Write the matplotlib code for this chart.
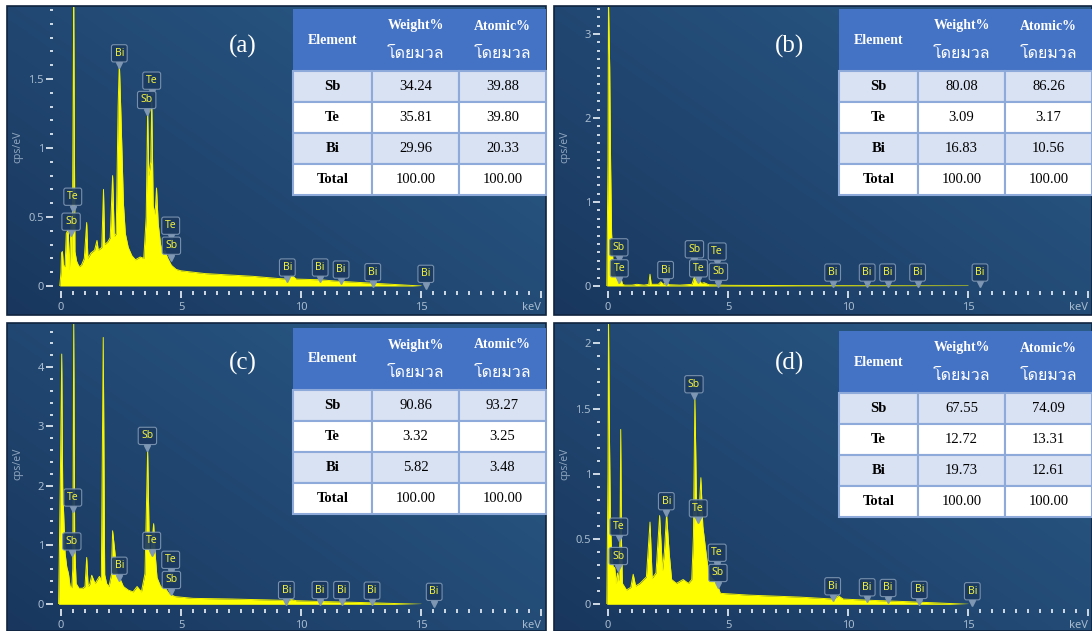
import numpy as np
import matplotlib
matplotlib.use('Agg')
import matplotlib.pyplot as plt
from matplotlib import font_manager
from matplotlib.patches import Rectangle
from matplotlib.ticker import MultipleLocator, FixedLocator, FuncFormatter
from matplotlib.transforms import offset_copy

# --- EDS spectra (keV, cps/eV) ---
energy_a = [-0.05, 0.0, 0.02, 0.06, 0.1, 0.17, 0.22, 0.3, 0.35, 0.42, 0.47, 0.53, 0.58, 0.65, 0.75,
            0.85, 0.97, 1.07, 1.12, 1.25, 1.4, 1.5, 1.55, 1.7, 1.77, 1.82, 1.95, 2.05, 2.15, 2.22,
            2.3, 2.38, 2.43, 2.5, 2.6, 2.68, 2.8, 2.95, 3.1, 3.3, 3.45, 3.55, 3.61, 3.66, 3.74,
            3.78, 3.84, 3.92, 3.98, 4.05, 4.15, 4.25, 4.32, 4.45, 4.6, 4.8, 5.0, 6.0, 7.0, 8.0,
            9.0, 9.4, 9.6, 9.8, 10.8, 11.5, 12.5, 13.5, 14.5, 15.0]
cps_a = [0, 0.1, 0.24, 0.25, 0.15, 0.14, 0.38, 0.41, 0.12, 0.45, 0.2, 2.1, 0.25, 0.18, 0.14,
         0.15, 0.2, 0.46, 0.2, 0.24, 0.26, 0.33, 0.26, 0.28, 0.7, 0.3, 0.32, 0.35, 0.8, 0.36,
         0.38, 1.3, 1.62, 1.22, 0.6, 0.38, 0.28, 0.22, 0.19, 0.21, 0.2, 0.5, 1.27, 0.8, 0.9,
         1.35, 0.58, 0.52, 0.71, 0.45, 0.3, 0.24, 0.26, 0.2, 0.15, 0.12, 0.11, 0.09, 0.08, 0.07,
         0.055, 0.05, 0.08, 0.05, 0.045, 0.035, 0.025, 0.015, 0.005, 0.0]

energy_b = [-0.05, 0.0, 0.02, 0.07, 0.11, 0.15, 0.21, 0.28, 0.35, 0.42, 0.48, 0.53, 0.6, 0.7, 1.0,
            1.2, 1.5, 1.7, 1.75, 1.8, 2.1, 2.2, 2.3, 2.45, 2.55, 3.0, 3.5, 3.6, 3.68, 3.78,
            3.9, 4.0, 4.2, 5.0, 8.0, 12.0, 15.0]
cps_b = [0, 1.5, 3.4, 2.6, 1.41, 0.62, 0.27, 0.15, 0.09, 0.03, 0.05, 0.11, 0.02, 0.01, 0.01,
         0.02, 0.01, 0.02, 0.14, 0.02, 0.02, 0.05, 0.02, 0.04, 0.015, 0.01, 0.02, 0.11, 0.05, 0.07,
         0.03, 0.04, 0.015, 0.008, 0.004, 0.002, 0.0]

energy_c = [-0.1, -0.03, 0.03, 0.07, 0.17, 0.24, 0.31, 0.38, 0.45, 0.49, 0.53, 0.57, 0.63, 0.75, 0.9,
            1.0, 1.07, 1.13, 1.2, 1.28, 1.42, 1.6, 1.68, 1.76, 1.82, 1.9, 2.0, 2.1, 2.15, 2.25,
            2.33, 2.45, 2.6, 2.8, 3.0, 3.17, 3.35, 3.5, 3.61, 3.68, 3.75, 3.86, 3.92, 4.0, 4.15,
            4.35, 4.5, 4.75, 5.5, 7.0, 8.5, 9.4, 9.6, 9.8, 11.0, 12.5, 14.0, 15.0]
cps_c = [0, 2.0, 4.22, 1.98, 0.86, 0.63, 0.52, 0.3, 0.28, 0.6, 4.8, 1.0, 0.35, 0.27, 0.27,
         0.3, 0.79, 0.3, 0.34, 0.49, 0.35, 0.47, 0.4, 4.5, 0.5, 0.35, 0.3, 0.5, 1.24, 0.86,
         0.52, 0.44, 0.3, 0.24, 0.21, 0.3, 0.21, 0.52, 2.6, 0.95, 0.86, 1.36, 0.86, 0.45, 0.3,
         0.27, 0.18, 0.13, 0.1, 0.09, 0.075, 0.065, 0.08, 0.06, 0.045, 0.03, 0.012, 0.0]

energy_d = [-0.05, 0.0, 0.02, 0.06, 0.1, 0.15, 0.21, 0.28, 0.35, 0.39, 0.45, 0.5, 0.53, 0.56, 0.6,
            0.77, 0.95, 1.05, 1.15, 1.33, 1.6, 1.75, 1.84, 2.0, 2.15, 2.27, 2.35, 2.44, 2.55, 2.65,
            2.85, 3.13, 3.35, 3.49, 3.56, 3.62, 3.7, 3.78, 3.87, 3.95, 4.06, 4.19, 4.33, 4.54, 4.68,
            5.9, 8.0, 9.4, 9.6, 9.8, 11.0, 12.5, 14.0, 15.0]
cps_d = [0, 1.0, 2.2, 1.29, 0.65, 0.39, 0.29, 0.28, 0.16, 0.24, 0.18, 0.5, 1.34, 0.5, 0.16,
         0.11, 0.13, 0.23, 0.14, 0.16, 0.21, 0.63, 0.2, 0.24, 0.68, 0.26, 0.4, 0.69, 0.39, 0.19,
         0.16, 0.19, 0.16, 0.19, 0.52, 1.58, 0.65, 0.65, 0.97, 0.6, 0.43, 0.24, 0.2, 0.16, 0.084,
         0.07, 0.055, 0.04, 0.065, 0.04, 0.03, 0.02, 0.008, 0.0]

# peak callouts: (element, keV, label height in cps/eV)
labels_a = [('Te', 0.49, 0.647), ('Sb', 0.42, 0.466), ('Bi', 2.43, 1.686), ('Te', 3.78, 1.488),
            ('Sb', 3.57, 1.348), ('Te', 4.57, 0.437), ('Sb', 4.6, 0.292), ('Bi', 9.43, 0.134),
            ('Bi', 10.8, 0.134), ('Bi', 11.67, 0.119), ('Bi', 12.99, 0.10), ('Bi', 15.2, 0.088)]
labels_b = [('Sb', 0.45, 0.46), ('Te', 0.47, 0.21), ('Bi', 2.4, 0.19), ('Sb', 3.6, 0.437),
            ('Te', 3.77, 0.21), ('Te', 4.55, 0.41), ('Sb', 4.6, 0.17), ('Bi', 9.36, 0.16),
            ('Bi', 10.8, 0.16), ('Bi', 11.65, 0.16), ('Bi', 12.9, 0.16), ('Bi', 15.5, 0.16)]
labels_c = [('Te', 0.49, 1.80), ('Sb', 0.45, 1.06), ('Bi', 2.43, 0.65), ('Sb', 3.6, 2.84),
            ('Te', 3.78, 1.07), ('Te', 4.57, 0.75), ('Sb', 4.6, 0.41), ('Bi', 9.39, 0.24),
            ('Bi', 10.79, 0.24), ('Bi', 11.69, 0.24), ('Bi', 12.96, 0.23), ('Bi', 15.55, 0.21)]
labels_d = [('Te', 0.45, 0.595), ('Sb', 0.43, 0.37), ('Bi', 2.43, 0.79), ('Sb', 3.58, 1.686),
            ('Te', 3.76, 0.735), ('Te', 4.55, 0.395), ('Sb', 4.58, 0.24), ('Bi', 9.36, 0.138),
            ('Bi', 10.8, 0.13), ('Bi', 11.67, 0.125), ('Bi', 12.97, 0.11), ('Bi', 15.18, 0.10)]

# labelled y ticks per panel
yticks_a = [0, 0.5, 1, 1.5]
yticks_b = [0, 1, 2, 3]
yticks_c = [0, 1, 2, 3, 4]
yticks_d = [0, 0.5, 1, 1.5, 2]
xticks = [0, 5, 10, 15, 20]
xticklabels = ['0', '5', '10', '15', 'keV']

# composition tables
elements = ['Sb', 'Te', 'Bi', 'Total']
weight_a = [34.24, 35.81, 29.96, 100.00]
atomic_a = [39.88, 39.80, 20.33, 100.00]
weight_b = [80.08, 3.09, 16.83, 100.00]
atomic_b = [86.26, 3.17, 10.56, 100.00]
weight_c = [90.86, 3.32, 5.82, 100.00]
atomic_c = [93.27, 3.25, 3.48, 100.00]
weight_d = [67.55, 12.72, 19.73, 100.00]
atomic_d = [74.09, 13.31, 12.61, 100.00]


def find_thai_font():
    try:
        from fontTools.ttLib import TTFont
    except ImportError:
        return None
    for f in font_manager.fontManager.ttflist:
        try:
            tt = TTFont(f.fname, fontNumber=0, lazy=True)
            cmap = tt.getBestCmap()
            if cmap and 0x0E14 in cmap and 0x0E27 in cmap:
                return f.name
        except Exception:
            continue
    return None


thai_font = find_thai_font()
thai_family = [thai_font, 'DejaVu Sans'] if thai_font else ['DejaVu Sans']

W, H = 1092, 631
fig = plt.figure(figsize=(W / 100, H / 100), dpi=100)
fig.patch.set_facecolor('white')


def px_axes(x0, y0, x1, y1, **kw):
    return fig.add_axes([x0 / W, 1 - y1 / H, (x1 - x0) / W, (y1 - y0) / H], **kw)


# background layer with the blue gradient panels
bg = px_axes(0, 0, W, H, zorder=0)
bg.set_axis_off()
top_col = np.array([0x2b, 0x5c, 0x8a]) / 255
bot_col = np.array([0x19, 0x37, 0x5e]) / 255
gx, gy = np.meshgrid(np.linspace(0, 1, 64), np.linspace(0, 1, 64))
t = np.clip(0.55 * gx + 0.45 * (1 - gy), 0, 1)
grad = bot_col[None, None, :] * (1 - t[..., None]) + top_col[None, None, :] * t[..., None]

panels = [
    dict(tag='(a)', box=(7, 6, 546, 315), x0=61, y0=286, ppu=138, yt=yticks_a, ymin=0.1,
         E=energy_a, C=cps_a, labels=labels_a, tab=(293, 9), w=weight_a, at=atomic_a),
    dict(tag='(b)', box=(554, 6, 1092, 315), x0=608, y0=286, ppu=84, yt=yticks_b, ymin=0.1,
         E=energy_b, C=cps_b, labels=labels_b, tab=(839, 9), w=weight_b, at=atomic_b),
    dict(tag='(c)', box=(7, 323, 546, 631), x0=61, y0=604.3, ppu=59.3, yt=yticks_c, ymin=0.2,
         E=energy_c, C=cps_c, labels=labels_c, tab=(293, 328), w=weight_c, at=atomic_c),
    dict(tag='(d)', box=(554, 323, 1092, 631), x0=608, y0=604.3, ppu=130.5, yt=yticks_d, ymin=0.1,
         E=energy_d, C=cps_d, labels=labels_d, tab=(839, 331), w=weight_d, at=atomic_d),
]

for p in panels:
    x0, y0, x1, y1 = p['box']
    bg.imshow(grad, extent=(x0, x1, y1, y0), aspect='auto', interpolation='bilinear')
    bg.add_patch(Rectangle((x0, y0), x1 - x0, y1 - y0, fill=False, ec='#10243e', lw=1.2))
bg.set_xlim(0, W)
bg.set_ylim(H, 0)

PPK = 24.0  # pixels per keV
tick_col = '#dde6ef'
lab_col = '#a9bccf'

for p in panels:
    bx0, by0, bx1, by1 = p['box']
    ax_l, ax_r, ax_t, ax_b = p['x0'] - 8, bx1 - 3, by0 + 1, p['y0']
    ax = px_axes(ax_l, ax_t, ax_r, ax_b, zorder=1)
    ax.patch.set_visible(False)
    ax.set_xlim((ax_l - p['x0']) / PPK, (ax_r - p['x0']) / PPK)
    ax.set_ylim(0, (ax_b - ax_t) / p['ppu'])

    ax.fill_between(p['E'], p['C'], 0, color='#ffff00', lw=0, zorder=2)
    ax.plot(p['E'], p['C'], color='#f4f400', lw=0.7, zorder=2)

    for s in ax.spines.values():
        s.set_visible(False)
    ax.spines['bottom'].set_position(('outward', 3.6))

    ax.set_xticks(xticks)
    ax.set_xticklabels(xticklabels)
    ax.xaxis.set_minor_locator(MultipleLocator(0.5))
    ax.yaxis.set_major_locator(FixedLocator(p['yt']))
    ax.yaxis.set_minor_locator(MultipleLocator(p['ymin']))
    ax.yaxis.set_major_formatter(FuncFormatter(lambda v, pos: '%g' % v))

    ax.tick_params(axis='x', which='major', length=5, width=1.3, color=tick_col,
                   labelcolor=lab_col, labelsize=8, pad=3)
    ax.tick_params(axis='x', which='minor', length=3, width=1.3, color=tick_col)
    ax.tick_params(axis='y', which='major', length=5, width=1.3, color=tick_col,
                   labelcolor=lab_col, labelsize=8, pad=1.5)
    ax.tick_params(axis='y', which='minor', length=2.4, width=1.3, color=tick_col)
    for lbl in ax.get_xticklabels() + ax.get_yticklabels():
        lbl.set_family('Noto Sans')
    ax.get_xticklabels()[-1].set_horizontalalignment('right')

    # element callouts
    ptr = offset_copy(ax.transData, fig=fig, y=-8.5, units='points')
    for el, e, y in p['labels']:
        ax.plot(e, y, marker='v', ms=4, color='#7f97b3', transform=ptr, clip_on=False, zorder=5)
        ax.text(e, y, el, ha='center', va='center', color='#f0f040', fontsize=7.5,
                family='Noto Sans', zorder=6, clip_on=False,
                bbox=dict(boxstyle='round,pad=0.3,rounding_size=0.2', fc='#1c3a60',
                          ec='#7f97b3', lw=0.8, alpha=0.92))

    fig.text((bx0 + 11) / W, 1 - (ax_t + ax_b) / 2 / H, 'cps/eV', rotation=90,
             ha='center', va='center', color='#8ea4bd', fontsize=7.5, family='Noto Sans')

# overlay with tables and panel tags
ov = px_axes(0, 0, W, H, zorder=3)
ov.patch.set_visible(False)
ov.set_axis_off()
ov.set_xlim(0, W)
ov.set_ylim(H, 0)

col_w = [79, 87, 87]
head_h, row_h = 62, 31
grid_col = '#8eaadb'
serif = 'Liberation Serif'

for p in panels:
    tx, ty = p['tab']
    bx0, by0, bx1, by1 = p['box']
    ov.text(bx0 + 236, by0 + 40, p['tag'], ha='center', va='center', color='white',
            fontsize=18, family=serif)

    edges = [tx, tx + col_w[0], tx + col_w[0] + col_w[1], tx + sum(col_w)]
    ov.add_patch(Rectangle((tx, ty), sum(col_w), head_h, fc='#4472c4', ec='none'))
    ov.text((edges[0] + edges[1]) / 2, ty + head_h * 0.5, 'Element', ha='center', va='center',
            color='white', fontsize=10, fontweight='bold', family=serif)
    for j, name in [(1, 'Weight%'), (2, 'Atomic%')]:
        cx = (edges[j] + edges[j + 1]) / 2
        ov.text(cx, ty + 17, name, ha='center', va='center', color='white', fontsize=10,
                fontweight='bold', family=serif)
        ov.text(cx, ty + 45, 'โดยมวล', ha='center', va='center', color='white', fontsize=11.5,
                family=thai_family)

    for i, el in enumerate(elements):
        top = ty + head_h + i * row_h
        fc = '#d9e2f3' if i % 2 == 0 else 'white'
        vals = [el, '%.2f' % p['w'][i], '%.2f' % p['at'][i]]
        for j in range(3):
            ov.add_patch(Rectangle((edges[j], top), edges[j + 1] - edges[j], row_h, fc=fc,
                                   ec=grid_col, lw=1.5))
            ov.text((edges[j] + edges[j + 1]) / 2, top + row_h / 2, vals[j], ha='center',
                    va='center', color='black', fontsize=10.5, family=serif,
                    fontweight='bold' if j == 0 else 'normal')

fig.savefig('out.png', dpi=100, facecolor='white')
